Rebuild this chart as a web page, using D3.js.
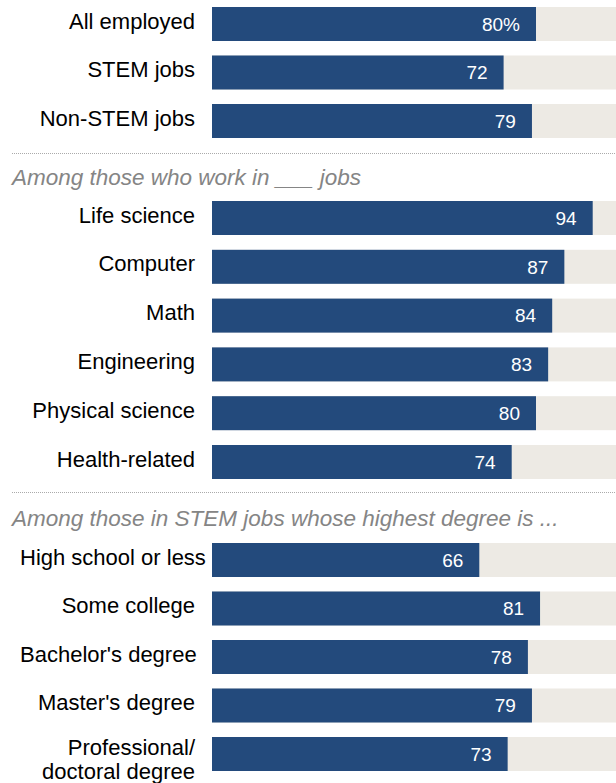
<!DOCTYPE html>
<html><head><meta charset="utf-8">
<script src="https://cdn.jsdelivr.net/npm/d3@7"></script>
<style>body{margin:0;background:#fff}svg{display:block}</style>
</head><body><svg id="c" width="616" height="783"></svg>
<script>
const group1 = ["All employed","STEM jobs","Non-STEM jobs"];
const values1 = [80,72,79];
const group2 = ["Life science","Computer","Math","Engineering","Physical science","Health-related"];
const values2 = [94,87,84,83,80,74];
const group3 = ["High school or less","Some college","Bachelor's degree","Master's degree","Professional/\ndoctoral degree"];
const values3 = [66,81,78,79,73];
const headers = ["Among those who work in ___ jobs","Among those in STEM jobs whose highest degree is ..."];

const svg = d3.select("#c");
const font = "'Liberation Sans', Arial, sans-serif";
const x = d3.scaleLinear().domain([0,100]).range([212,617]);
const blue = "#234a7c", bg = "#edeae4";

const groups = [
  {cats: group1, vals: values1, top: 7, pitch: 48.5, pct: true},
  {cats: group2, vals: values2, top: 201, pitch: 48.8},
  {cats: group3, vals: values3, top: 543, pitch: 48.5}
];
const barH = 34;
const labelRight = 195, labelLeft = 20;

groups.forEach((g, gi) => {
  const n = g.cats.length;
  const y = d3.scaleBand().domain(g.cats)
    .range([g.top, g.top + g.pitch * (n - 1) + barH])
    .paddingInner(1 - barH / g.pitch).paddingOuter(0).align(0);
  const gg = svg.append("g");
  gg.selectAll("rect.bg").data(g.cats).join("rect")
    .attr("x", x(0)).attr("y", d => y(d)).attr("width", x(100) - x(0)).attr("height", y.bandwidth())
    .attr("fill", bg);
  gg.selectAll("rect.bar").data(g.cats).join("rect")
    .attr("x", x(0)).attr("y", d => y(d)).attr("width", (d, i) => x(g.vals[i]) - x(0)).attr("height", y.bandwidth())
    .attr("fill", blue);
  gg.selectAll("text.val").data(g.cats).join("text")
    .attr("x", (d, i) => x(g.vals[i]) - 16)
    .attr("y", d => y(d) + y.bandwidth() / 2 + 6.8)
    .attr("text-anchor", "end")
    .attr("font-family", font).attr("font-size", 19).attr("fill", "#fff")
    .text((d, i) => g.vals[i] + (g.pct && i === 0 ? "%" : ""));
  g.cats.forEach(d => {
    const lines = d.split("\n");
    const cy = y(d) + y.bandwidth() / 2;
    const t = gg.append("text").attr("text-anchor", "end").attr("x", labelRight)
      .attr("font-family", font).attr("font-size", 22).attr("fill", "#000");
    if (lines.length === 1) {
      t.attr("y", cy + 4.5).text(d);
      const bb = t.node().getBBox();
      if (bb.x < labelLeft) t.attr("text-anchor", "start").attr("x", labelLeft);
    } else {
      lines.forEach((l, li) => t.append("tspan").attr("x", labelRight)
        .attr("y", cy + 0.5 + li * 24).text(l));
    }
  });
});

const seps = [153, 492];
const heads = [185, 526];
seps.forEach((s, i) => {
  svg.append("line").attr("x1", 12).attr("x2", 616).attr("y1", s + 0.5).attr("y2", s + 0.5)
    .attr("stroke", "#aaa").attr("stroke-width", 1).attr("stroke-dasharray", "1,1");
  svg.append("text").attr("x", 12).attr("y", heads[i])
    .attr("font-family", font).attr("font-size", 22.5).attr("font-style", "italic")
    .attr("fill", "#858585").text(headers[i]);
});
</script></body></html>
